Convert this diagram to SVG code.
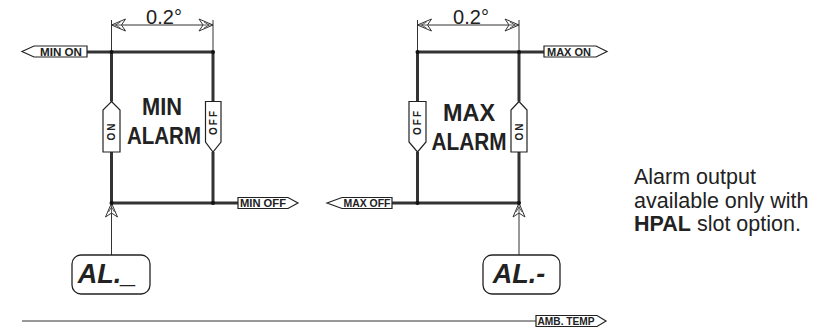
<svg xmlns="http://www.w3.org/2000/svg" width="836" height="333" viewBox="0 0 836 333">
<style>
.thick{stroke:#333;stroke-width:3;fill:none}
.thin{stroke:#333;stroke-width:1;fill:none}
.tag{fill:#fff;stroke:#222;stroke-width:1.2}
.tagt{font-family:"Liberation Sans",Arial,sans-serif;font-weight:bold;font-size:10.5px;fill:#222;text-anchor:middle}
.vt{font-family:"Liberation Sans",Arial,sans-serif;font-weight:bold;font-size:10px;fill:#222;text-anchor:middle;letter-spacing:2px}
.big{font-family:"Liberation Sans",Arial,sans-serif;font-weight:bold;font-size:24px;fill:#222;text-anchor:middle}
.dim{font-family:"Liberation Sans",Arial,sans-serif;font-size:20px;fill:#222;text-anchor:middle}
.al{font-family:"Liberation Sans",Arial,sans-serif;font-weight:bold;font-style:italic;font-size:27px;fill:#222;text-anchor:middle}
.note{font-family:"Liberation Sans",Arial,sans-serif;font-size:21.5px;fill:#222}
.dot{fill:#111}
</style>
<defs>
<g id="arr">
<path d="M0,0 L-6,14 L0,10 L6,14 Z" fill="#fff" stroke="#333" stroke-width="1"/>
<path d="M-3,9 L0,4 L3,9 M0,0 L0,10" fill="none" stroke="#333" stroke-width="0.8"/>
</g>
</defs>
<g id="connectors">
<path class="thick" d="M87,52 H213 M111.5,52 V101.5 M111.5,152 V203 M213,52 V101.5 M213,152 V203 M111.5,203 H238"/>
<path class="thick" d="M417.5,52 H544 M417.5,52 V101.5 M417.5,152 V203 M519,52 V101.5 M519,152 V203 M392,203 H519"/>
<path class="thin" d="M111.5,20 V52 M213,20 V52 M111.5,25 H213 M417.5,20 V52 M519,20 V52 M417.5,25 H519"/>
<use href="#arr" transform="translate(111.5,25) rotate(-90)"/>
<use href="#arr" transform="translate(213,25) rotate(90)"/>
<use href="#arr" transform="translate(417.5,25) rotate(-90)"/>
<use href="#arr" transform="translate(519,25) rotate(90)"/>
<path class="thin" d="M111.5,203 V255 M519,203 V255"/>
<use href="#arr" transform="translate(111.5,203)"/>
<use href="#arr" transform="translate(519,203)"/>
<path class="thin" d="M22,321 H536" stroke-width="1.3"/>
<circle class="dot" cx="111.5" cy="52" r="2"/>
<circle class="dot" cx="213" cy="52" r="2"/>
<circle class="dot" cx="213" cy="203" r="2"/>
<circle class="dot" cx="111.5" cy="203" r="2"/>
<circle class="dot" cx="417.5" cy="52" r="2"/>
<circle class="dot" cx="519" cy="52" r="2"/>
<circle class="dot" cx="417.5" cy="203" r="2"/>
<circle class="dot" cx="519" cy="203" r="2"/>
</g>
<g id="dim-min"><text class="dim" x="164" y="24">0.2°</text></g>
<g id="dim-max"><text class="dim" x="471" y="24">0.2°</text></g>
<g id="min-on">
<polygon class="tag" points="22,51.5 34,46 87,46 87,57 34,57"/>
<text class="tagt" x="61" y="55.6" textLength="42" lengthAdjust="spacingAndGlyphs">MIN ON</text>
</g>
<g id="max-on">
<polygon class="tag" points="544,46 596,46 607,51.5 596,57 544,57"/>
<text class="tagt" x="569" y="55.6" textLength="44" lengthAdjust="spacingAndGlyphs">MAX ON</text>
</g>
<g id="min-off">
<polygon class="tag" points="238,197.5 288,197.5 298,203 288,208.5 238,208.5"/>
<text class="tagt" x="263" y="207" textLength="46" lengthAdjust="spacingAndGlyphs">MIN OFF</text>
</g>
<g id="max-off">
<polygon class="tag" points="327,203 342,197.5 392,197.5 392,208.5 342,208.5"/>
<text class="tagt" x="367" y="207" textLength="47" lengthAdjust="spacingAndGlyphs">MAX OFF</text>
</g>
<g id="min-on-v">
<polygon class="tag" points="111.5,101.5 120,110 120,152 103,152 103,110"/>
<text class="vt" transform="translate(115,131) rotate(-90)">ON</text>
</g>
<g id="min-off-v">
<polygon class="tag" points="205.5,101.5 221,101.5 221,142 213,152 205.5,142"/>
<text class="vt" transform="translate(216.5,122) rotate(-90)">OFF</text>
</g>
<g id="max-off-v">
<polygon class="tag" points="409,101.5 426,101.5 426,142 417.5,152 409,142"/>
<text class="vt" transform="translate(421,122) rotate(-90)">OFF</text>
</g>
<g id="max-on-v">
<polygon class="tag" points="519,101.5 527,110 527,152 511,152 511,110"/>
<text class="vt" transform="translate(522.5,131) rotate(-90)">ON</text>
</g>
<g id="min-alarm">
<text class="big" x="162" y="115" textLength="40" lengthAdjust="spacingAndGlyphs">MIN</text>
<text class="big" x="164" y="144" textLength="74" lengthAdjust="spacingAndGlyphs">ALARM</text>
</g>
<g id="max-alarm">
<text class="big" x="469" y="121" textLength="52" lengthAdjust="spacingAndGlyphs">MAX</text>
<text class="big" x="469" y="150" textLength="75" lengthAdjust="spacingAndGlyphs">ALARM</text>
</g>
<g id="al-min">
<rect x="72" y="255" width="78" height="39" rx="9" fill="#fff" stroke="#222" stroke-width="1.3"/>
<text class="al" x="107" y="283">AL._</text>
</g>
<g id="al-max">
<rect x="483" y="255" width="77" height="39" rx="9" fill="#fff" stroke="#222" stroke-width="1.3"/>
<text class="al" x="519" y="283">AL.-</text>
</g>
<g id="amb-temp">
<polygon class="tag" points="536,315.5 597,315.5 606,321 597,326.5 536,326.5"/>
<text class="tagt" x="566" y="324.8" textLength="57" lengthAdjust="spacingAndGlyphs">AMB. TEMP</text>
</g>
<g id="note">
<text class="note" x="634" y="184">Alarm output</text>
<text class="note" x="634" y="207.5">available only with</text>
<text class="note" x="634" y="231"><tspan font-weight="bold">HPAL</tspan> slot option.</text>
</g>
</svg>
